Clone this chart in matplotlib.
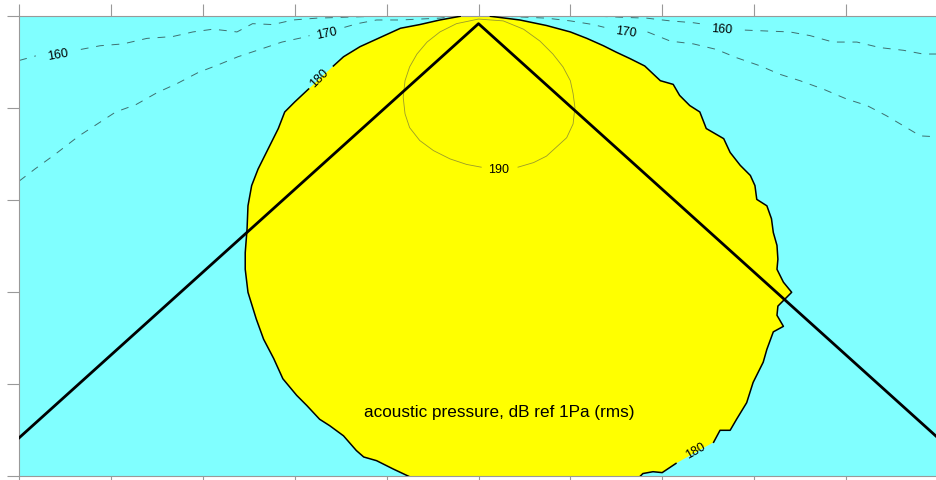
import numpy as np
import matplotlib.pyplot as plt

plt.rcParams['font.family'] = ['Liberation Sans', 'DejaVu Sans']

# ========== contour lines, (range km, depth km) ==========
# 180 dB contour, left side (top -> bottom), split where the label sits
c180_left_a = [(4.80, 0.00), (4.58, 0.04), (4.36, 0.09), (4.15, 0.13), (3.93, 0.23),
               (3.71, 0.33), (3.53, 0.44), (3.42, 0.54)]
c180_left_b = [(3.15, 0.79), (3.00, 0.93), (2.89, 1.04), (2.82, 1.22), (2.71, 1.44),
               (2.60, 1.66), (2.53, 1.84), (2.49, 2.06), (2.48, 2.31), (2.46, 2.57),
               (2.46, 2.75), (2.49, 3.00), (2.58, 3.29), (2.62, 3.40), (2.66, 3.51),
               (2.77, 3.72), (2.87, 3.94), (3.02, 4.12), (3.13, 4.23), (3.27, 4.38),
               (3.38, 4.45), (3.53, 4.56), (3.67, 4.72), (3.75, 4.79), (3.89, 4.83),
               (4.07, 4.92), (4.24, 5.00)]
# 180 dB contour, right side (top -> bottom)
c180_right_a = [(5.13, 0.00), (5.45, 0.04), (5.74, 0.10), (6.00, 0.17), (6.18, 0.24),
                (6.36, 0.32), (6.50, 0.39), (6.65, 0.46), (6.81, 0.54), (6.98, 0.70),
                (7.12, 0.74), (7.19, 0.86), (7.30, 0.97), (7.41, 1.04), (7.48, 1.22),
                (7.67, 1.33), (7.74, 1.48), (7.85, 1.62), (7.96, 1.73), (8.01, 1.84),
                (8.03, 1.99), (8.14, 2.06), (8.19, 2.20), (8.21, 2.35), (8.25, 2.49),
                (8.26, 2.64), (8.25, 2.75), (8.32, 2.89), (8.41, 3.00), (8.34, 3.07),
                (8.26, 3.15), (8.25, 3.25), (8.32, 3.37), (8.21, 3.43), (8.14, 3.62),
                (8.10, 3.76), (7.99, 3.98), (7.92, 4.20), (7.81, 4.38), (7.74, 4.50),
                (7.63, 4.50), (7.56, 4.63)]
c180_right_b = [(7.15, 4.86), (7.09, 4.90), (7.00, 4.96), (6.90, 4.95), (6.79, 4.97),
                (6.76, 5.00)]

# 190 dB contour (open at its label)
c190 = [(5.03, 1.64), (4.87, 1.61), (4.69, 1.55), (4.51, 1.46), (4.36, 1.35),
        (4.25, 1.21), (4.20, 1.06), (4.18, 0.88), (4.20, 0.70), (4.25, 0.55),
        (4.33, 0.41), (4.44, 0.28), (4.58, 0.17), (4.76, 0.08), (5.00, 0.03),
        (5.27, 0.05), (5.49, 0.14), (5.67, 0.27), (5.81, 0.41), (5.92, 0.55),
        (6.00, 0.70), (6.03, 0.84), (6.05, 0.99), (6.03, 1.17), (5.96, 1.32),
        (5.85, 1.42), (5.74, 1.52), (5.60, 1.59), (5.43, 1.64)]

# 170 dB contours
c170_left_a = [(0.00, 1.79), (0.17, 1.66), (0.39, 1.50), (0.65, 1.30), (0.85, 1.17),
               (1.05, 1.04), (1.27, 0.96), (1.50, 0.83), (1.72, 0.73), (1.95, 0.61),
               (2.16, 0.53), (2.38, 0.44), (2.62, 0.36), (2.86, 0.28), (3.09, 0.23),
               (3.16, 0.21)]
c170_left_b = [(3.54, 0.12), (3.68, 0.08), (3.89, 0.04), (4.15, 0.04), (4.36, 0.03),
               (4.58, 0.02), (4.74, 0.00)]
c170_right_a = [(5.29, 0.00), (5.52, 0.01), (5.74, 0.02), (6.00, 0.05), (6.25, 0.09),
                (6.37, 0.12)]
c170_right_b = [(6.84, 0.17), (7.09, 0.27), (7.34, 0.30), (7.59, 0.36), (7.81, 0.45),
                (8.07, 0.54), (8.28, 0.63), (8.50, 0.70), (8.75, 0.79), (9.01, 0.90),
                (9.23, 0.97), (9.44, 1.08), (9.66, 1.21), (9.81, 1.30), (10.00, 1.31)]

# 160 dB contours
c160_left_a = [(0.00, 0.48), (0.18, 0.43)]
c160_left_b = [(0.67, 0.36), (0.88, 0.32), (1.13, 0.30), (1.39, 0.24), (1.67, 0.22),
               (1.89, 0.17), (2.11, 0.14), (2.29, 0.16), (2.37, 0.17), (2.54, 0.08),
               (2.76, 0.09), (2.98, 0.04), (3.24, 0.02), (3.55, 0.01), (3.87, 0.00)]
c160_right_a = [(6.32, 0.00), (6.54, 0.01), (6.83, 0.02), (7.09, 0.05), (7.34, 0.07),
                (7.41, 0.08)]
c160_right_b = [(7.90, 0.15), (8.14, 0.16), (8.39, 0.17), (8.61, 0.21), (8.86, 0.28),
                (9.12, 0.28), (9.37, 0.34), (9.63, 0.37), (9.84, 0.41), (10.00, 0.41)]

# contour labels: text, x, depth, rotation
labels = [("160", 0.42, 0.41, 10), ("170", 3.35, 0.18, 12), ("180", 3.27, 0.67, 45),
          ("190", 5.22, 1.66, 0), ("170", 6.61, 0.17, -8), ("160", 7.65, 0.13, -4),
          ("180", 7.36, 4.72, 30)]

# beam edges
beam_x = [0.0, 5.0, 10.0]
beam_z = [4.58, 0.08, 4.58]


def xy(pts):
    a = np.array(pts)
    return a[:, 0], a[:, 1]


fig = plt.figure(figsize=(9.36, 4.81), dpi=100)
ax = fig.add_axes([19.3 / 936, 3.7 / 481, 918.4 / 936, 460 / 481])
ax.set_facecolor('#80ffff')

# yellow area above 180 dB
poly = c180_left_a + c180_left_b + c180_right_b[::-1] + c180_right_a[::-1]
px, pz = xy(poly)
ax.fill(px, pz, color='#ffff00', lw=0, zorder=1)

for piece in (c180_left_a, c180_left_b, c180_right_a, c180_right_b):
    ax.plot(*xy(piece), color='black', lw=1.1, zorder=3)

ax.plot(*xy(c190), color='#9a9a2a', lw=0.6, zorder=3)

for piece in (c170_left_a, c170_left_b, c170_right_a, c170_right_b,
              c160_left_a, c160_left_b, c160_right_a, c160_right_b):
    ax.plot(*xy(piece), color='#3f6f6f', lw=0.7, ls=(0, (8, 8)), zorder=2)

for txt, x, z, rot in labels:
    ax.text(x, z, txt, fontsize=9, rotation=rot, ha='center', va='center',
            rotation_mode='anchor', zorder=4)

ax.plot(beam_x, beam_z, color='black', lw=2.0, zorder=5)

ax.text(5.23, 4.30, "acoustic pressure, dB ref 1Pa (rms)", fontsize=12.3,
        ha='center', va='center', zorder=6)

ax.set_xlim(0, 10)
ax.set_ylim(5, 0)
ax.set_xticks(np.arange(0, 11, 1))
ax.set_yticks(np.arange(0, 6, 1))
ax.tick_params(axis='both', direction='out', length=8.6, width=0.8, color='#999999',
               top=True, bottom=True, left=True, right=False,
               labelbottom=False, labelleft=False, labeltop=False)
for s in ax.spines.values():
    s.set_color('#999999')
    s.set_linewidth(0.8)

fig.savefig('out.png', dpi=100)
